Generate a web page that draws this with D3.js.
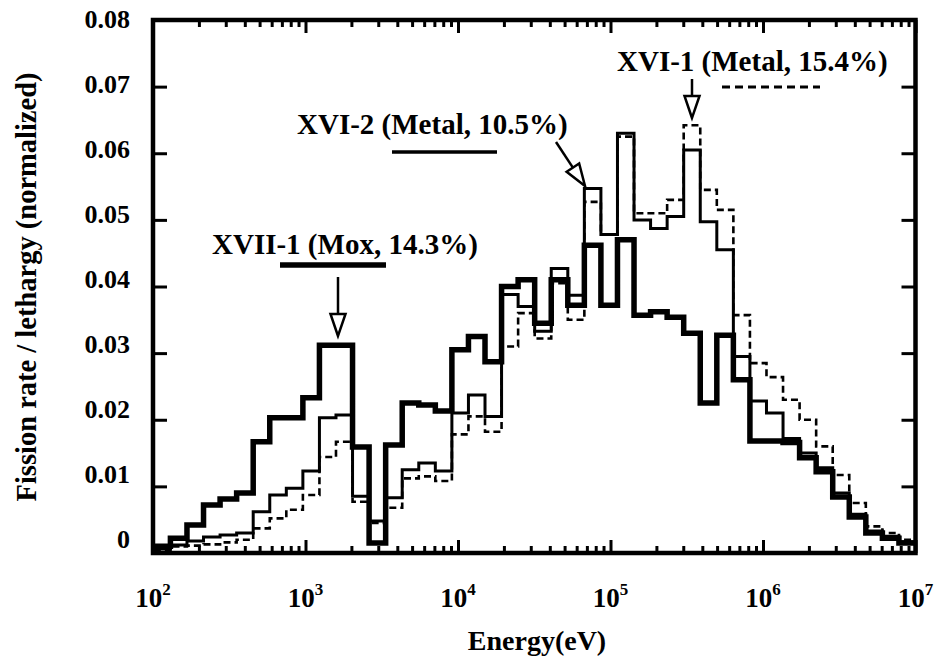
<!DOCTYPE html>
<html>
<head>
<meta charset="utf-8">
<script src="https://cdn.jsdelivr.net/npm/d3@7"></script>
<style>
  html, body { margin: 0; padding: 0; background: #fff; }
  svg text { font-family: "Liberation Serif", "DejaVu Serif", serif; font-weight: bold; fill: #000; }
</style>
</head>
<body>
<svg id="chart" width="938" height="658"></svg>
<script>
// Energy group boundaries (eV), ascending
const energyBounds = [101.30, 130.07, 167.02, 214.45, 275.36, 353.57, 454.00, 582.95, 748.52, 961.12,
  1234.1, 1584.6, 2034.7, 2612.6, 3354.6, 4307.4, 5530.8, 7101.7, 9118.8, 11709,
  15034, 19305, 24788, 31828, 40868, 52475, 67379, 86517, 111090, 142640,
  183160, 235180, 301970, 387740, 497870, 639280, 820850, 1054000, 1353400, 1737700,
  2231300, 2865000, 3678800, 4723700, 6065300, 7788000, 10000000];

// XVII-1 (Mox, 14.3%) - thick solid
const moxXVII1 = [0.0010, 0.0022, 0.0042, 0.0072, 0.0081, 0.0090, 0.0167, 0.0203, 0.0203, 0.0233,
  0.0312, 0.0312, 0.0159, 0.0015, 0.0162, 0.0225, 0.0222, 0.0213, 0.0305, 0.0325,
  0.0287, 0.0400, 0.0410, 0.0345, 0.0410, 0.0372, 0.0462, 0.0372, 0.0470, 0.0357,
  0.0362, 0.0354, 0.0330, 0.0225, 0.0327, 0.0260, 0.0168, 0.0168, 0.0166, 0.0143,
  0.0122, 0.0084, 0.0054, 0.0030, 0.0022, 0.0015];

// XVI-2 (Metal, 10.5%) - thin solid
const metalXVI2 = [0.0006, 0.0012, 0.0018, 0.0024, 0.0027, 0.0030, 0.0062, 0.0087, 0.0097, 0.0123,
  0.0203, 0.0207, 0.0085, 0.0048, 0.0083, 0.0125, 0.0135, 0.0123, 0.0210, 0.0237,
  0.0205, 0.0388, 0.0370, 0.0333, 0.0427, 0.0387, 0.0547, 0.0478, 0.0630, 0.0500,
  0.0487, 0.0505, 0.0605, 0.0497, 0.0455, 0.0295, 0.0228, 0.0210, 0.0172, 0.0150,
  0.0128, 0.0090, 0.0058, 0.0033, 0.0025, 0.0017];

// XVI-1 (Metal, 15.4%) - dashed
const metalXVI1 = [0.0005, 0.0010, 0.0011, 0.0013, 0.0016, 0.0020, 0.0037, 0.0052, 0.0065, 0.0087,
  0.0144, 0.0167, 0.0077, 0.0045, 0.0068, 0.0112, 0.0115, 0.0108, 0.0178, 0.0205,
  0.0182, 0.0310, 0.0360, 0.0322, 0.0405, 0.0350, 0.0527, 0.0478, 0.0625, 0.0510,
  0.0510, 0.0530, 0.0642, 0.0545, 0.0515, 0.0357, 0.0285, 0.0264, 0.0230, 0.0200,
  0.0160, 0.0117, 0.0075, 0.0040, 0.0030, 0.0020];

const yTickValues = [0, 0.01, 0.02, 0.03, 0.04, 0.05, 0.06, 0.07, 0.08];
const yTickLabels = ["0", "0.01", "0.02", "0.03", "0.04", "0.05", "0.06", "0.07", "0.08"];
const xTickExponents = [2, 3, 4, 5, 6, 7];

const svg = d3.select("#chart");
const L = 153, R = 915.5, T = 20, B = 553;

const x = d3.scaleLog().domain([1e2, 1e7]).range([L, R]);
const y = d3.scaleLinear().domain([0, 0.08]).range([B, T]);
const yLabel = d3.scaleLinear().domain([0, 0.08]).range([539, 19]);

// minor tick values
const minorVals = [];
for (let e = 2; e < 7; e++) for (let m = 2; m <= 9; m++) minorVals.push(m * Math.pow(10, e));
const majorVals = xTickExponents.map(e => Math.pow(10, e));

function styleAxis(g) {
  g.select(".domain").remove();
  g.selectAll(".tick line").attr("stroke", "#000").attr("stroke-width", 3);
  g.selectAll(".tick text").remove();
}

svg.append("g").attr("transform", `translate(0,${B})`)
  .call(d3.axisBottom(x).tickValues(majorVals).tickSize(-13).tickFormat("")).call(styleAxis);
svg.append("g").attr("transform", `translate(0,${B})`)
  .call(d3.axisBottom(x).tickValues(minorVals).tickSize(-7).tickFormat("")).call(styleAxis);
svg.append("g").attr("transform", `translate(0,${T})`)
  .call(d3.axisTop(x).tickValues(majorVals).tickSize(-13).tickFormat("")).call(styleAxis);
svg.append("g").attr("transform", `translate(0,${T})`)
  .call(d3.axisTop(x).tickValues(minorVals).tickSize(-7).tickFormat("")).call(styleAxis);
svg.append("g").attr("transform", `translate(${L},0)`)
  .call(d3.axisLeft(y).tickValues(yTickValues).tickSize(-14).tickFormat("")).call(styleAxis);
svg.append("g").attr("transform", `translate(${R},0)`)
  .call(d3.axisRight(y).tickValues(yTickValues).tickSize(-14).tickFormat("")).call(styleAxis);

// histograms
function stepPoints(vals) {
  const pts = vals.map((v, i) => [energyBounds[i], v]);
  pts.push([energyBounds[vals.length], vals[vals.length - 1]]);
  return pts;
}
const line = d3.line().x(d => x(d[0])).y(d => y(d[1])).curve(d3.curveStepAfter);

svg.append("path").datum(stepPoints(metalXVI1)).attr("d", line)
  .attr("fill", "none").attr("stroke", "#000").attr("stroke-width", 2.6)
  .attr("stroke-dasharray", "7,4");
svg.append("path").datum(stepPoints(metalXVI2)).attr("d", line)
  .attr("fill", "none").attr("stroke", "#000").attr("stroke-width", 3);
svg.append("path").datum(stepPoints(moxXVII1)).attr("d", line)
  .attr("fill", "none").attr("stroke", "#000").attr("stroke-width", 5.5);

// frame
svg.append("rect").attr("x", L).attr("y", T).attr("width", R - L).attr("height", B - T)
  .attr("fill", "none").attr("stroke", "#000").attr("stroke-width", 4.5);

// y tick labels
svg.append("g").selectAll("text").data(yTickValues).join("text")
  .attr("x", 130).attr("y", d => yLabel(d))
  .attr("text-anchor", "end").attr("dominant-baseline", "central")
  .attr("font-size", 26)
  .text((d, i) => yTickLabels[i]);

// x tick labels
const xl = svg.append("g").selectAll("text").data(xTickExponents).join("text")
  .attr("x", d => x(Math.pow(10, d))).attr("y", 607)
  .attr("text-anchor", "middle").attr("font-size", 27);
xl.append("tspan").text("10");
xl.append("tspan").attr("dy", -12).attr("font-size", 17).text(d => d);

// axis titles
svg.append("text").attr("x", 537).attr("y", 650).attr("text-anchor", "middle")
  .attr("font-size", 28).text("Energy(eV)");
svg.append("text").attr("transform", "translate(36,287) rotate(-90)")
  .attr("text-anchor", "middle").attr("font-size", 28.5)
  .text("Fission rate / lethargy (normalized)");

// annotations
svg.append("text").attr("x", 212).attr("y", 254).attr("font-size", 29).text("XVII-1 (Mox, 14.3%)");
svg.append("line").attr("x1", 280).attr("x2", 386).attr("y1", 265).attr("y2", 265)
  .attr("stroke", "#000").attr("stroke-width", 5.5);

svg.append("text").attr("x", 297).attr("y", 134).attr("font-size", 29).text("XVI-2 (Metal, 10.5%)");
svg.append("line").attr("x1", 392).attr("x2", 497).attr("y1", 152).attr("y2", 152)
  .attr("stroke", "#000").attr("stroke-width", 3.5);

svg.append("text").attr("x", 617).attr("y", 71).attr("font-size", 29).text("XVI-1 (Metal, 15.4%)");
svg.append("line").attr("x1", 722).attr("x2", 820).attr("y1", 87).attr("y2", 87)
  .attr("stroke", "#000").attr("stroke-width", 3).attr("stroke-dasharray", "8,5");

// arrows with open triangle heads
function arrow(x1, y1, x2, y2) {
  const ang = Math.atan2(y2 - y1, x2 - x1);
  const hl = 22, hw = 7.5;
  const bx = x2 - hl * Math.cos(ang), by = y2 - hl * Math.sin(ang);
  const px = -Math.sin(ang) * hw, py = Math.cos(ang) * hw;
  svg.append("line").attr("x1", x1).attr("y1", y1).attr("x2", bx).attr("y2", by)
    .attr("stroke", "#000").attr("stroke-width", 2.5);
  svg.append("path")
    .attr("d", `M${x2},${y2}L${bx + px},${by + py}L${bx - px},${by - py}Z`)
    .attr("fill", "#fff").attr("stroke", "#000").attr("stroke-width", 2.5);
}
arrow(338, 277, 338, 336);
arrow(556, 142, 585, 186);
arrow(692, 79, 692, 118);
</script>
</body>
</html>
